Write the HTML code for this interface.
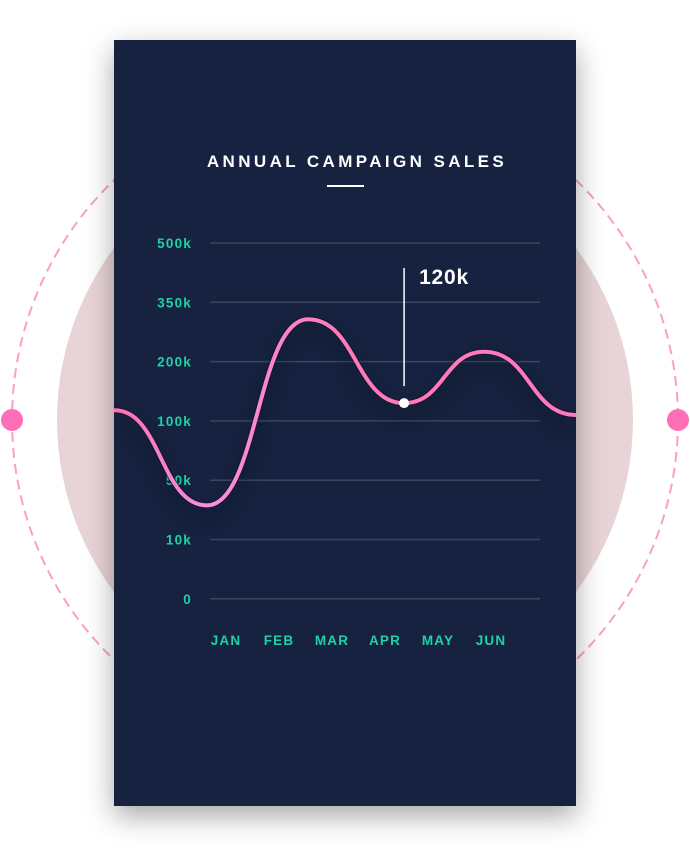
<!DOCTYPE html>
<html><head><meta charset="utf-8"><style>
html,body{margin:0;padding:0;background:#fff;}
body{width:690px;height:852px;position:relative;overflow:hidden;font-family:"Liberation Sans",sans-serif;}
svg{position:absolute;left:0;top:0;}
</style></head><body>
<svg width="690" height="852">
<defs>
<filter id="sh" x="-30%" y="-30%" width="160%" height="160%"><feDropShadow dx="0" dy="10" stdDeviation="14" flood-color="#000" flood-opacity="0.35"/></filter>
<filter id="lsh" x="-20%" y="-20%" width="140%" height="160%"><feDropShadow dx="0" dy="12" stdDeviation="8" flood-color="#000" flood-opacity="0.5"/></filter>
<linearGradient id="lg" x1="0" x2="1" y1="0" y2="0"><stop offset="0" stop-color="#ff6fae"/><stop offset="0.2" stop-color="#f98ee0"/><stop offset="0.5" stop-color="#ff7ab8"/><stop offset="1" stop-color="#ff78c0"/></linearGradient>
<clipPath id="cc"><rect x="114" y="40" width="462" height="766"/></clipPath>
</defs>
<circle cx="345" cy="420" r="333" fill="none" stroke="#f7a0cc" stroke-width="2" stroke-dasharray="10 6"/>
<circle cx="345" cy="420" r="288" fill="#e8d4d6"/>
<circle cx="12" cy="420" r="11" fill="#ff6fb8"/>
<circle cx="678" cy="420" r="11" fill="#ff6fb8"/>
<rect x="114" y="40" width="462" height="766" fill="#172441" filter="url(#sh)"/>
<text x="357" y="167" text-anchor="middle" fill="#fff" font-size="17" font-weight="bold" letter-spacing="3.4">ANNUAL CAMPAIGN SALES</text>
<rect x="327" y="185" width="37" height="2" fill="#fff"/>
<g id="grid"></g>
<g id="plot" clip-path="url(#cc)"></g>
</svg>
<script>
const yTicks=["500k","350k","200k","100k","50k","10k","0"];
const yTickValues=[500,350,200,100,50,10,0];
const months=["JAN","FEB","MAR","APR","MAY","JUN"];
const ptMonth=[-2.1,-0.36,1.55,3.36,4.87,6.6];
const ptValue=[118,33,307,130,225,110];
const annotIndex=3;
const annotLabel="120k";

const NS="http://www.w3.org/2000/svg";
const gTop=243,gStep=59.3,gx0=210,gx1=540;
function yScale(v){
  for(let i=0;i<yTickValues.length-1;i++){
    const a=yTickValues[i],b=yTickValues[i+1];
    if(v<=a&&v>=b){return gTop+gStep*(i+(a-v)/(a-b));}
  }
  return v>500?gTop:gTop+gStep*6;
}
function xScale(m){return 226+m*53;}
function mk(t,attrs,parent){const e=document.createElementNS(NS,t);for(const k in attrs)e.setAttribute(k,attrs[k]);parent.appendChild(e);return e;}
const grid=document.getElementById('grid'),plot=document.getElementById('plot');
yTicks.forEach((t,i)=>{
  const y=yScale(yTickValues[i]);
  const l=mk('line',{x1:gx0,x2:gx1,y1:y,y2:y,stroke:'#3a4560','stroke-width':1.5},grid);
  
  
  const tx=mk('text',{x:192,y:y+5,'text-anchor':'end',fill:'#1fd1a5','font-size':13.5,'font-weight':'bold','letter-spacing':'1.2'},grid);
  tx.textContent=t;
  
  
});
months.forEach((m,i)=>{
  const tx=mk('text',{x:xScale(i),y:645,'text-anchor':'middle',fill:'#1fd1a5','font-size':13.5,'font-weight':'bold','letter-spacing':'1.2'},grid);
  tx.textContent=m;
  
  
});
const P=ptMonth.map((m,i)=>[xScale(m),yScale(ptValue[i])]);
let d='M'+P[0][0]+' '+P[0][1];
for(let i=1;i<P.length;i++){
  const a=P[i-1],b=P[i],dx=(b[0]-a[0])*0.5;
  d+=` C${a[0]+dx} ${a[1]} ${b[0]-dx} ${b[1]} ${b[0]} ${b[1]}`;
}
const sh=mk('path',{d:d,fill:'none',stroke:'#0c1428','stroke-width':6,filter:'url(#lsh)',opacity:0.7},plot);


const ln=mk('path',{d:d,fill:'none',stroke:'url(#lg)','stroke-width':4,'stroke-linecap':'round'},plot);


const ap=P[annotIndex];
const al=mk('line',{x1:ap[0],x2:ap[0],y1:268,y2:ap[1]-17,stroke:'#fff','stroke-width':1.5},plot);


const dot=mk('circle',{cx:ap[0],cy:ap[1],r:5,fill:'#fff'},plot);


const at=mk('text',{x:ap[0]+15,y:284,fill:'#fff','font-size':21,'font-weight':'bold','letter-spacing':'0.8'},plot);
at.textContent=annotLabel;


</script>
</body></html>
